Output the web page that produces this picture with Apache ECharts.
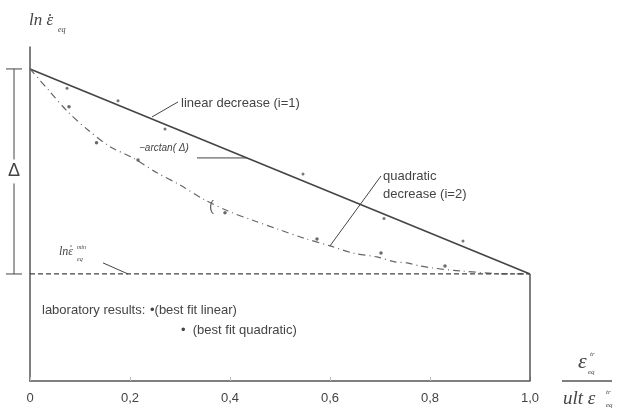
<!DOCTYPE html>
<html>
<head>
<meta charset="utf-8">
<script src="https://cdn.jsdelivr.net/npm/echarts@6/dist/echarts.min.js"></script>
<style>
  html, body { margin: 0; background: #fff; }
  #chart { width: 619px; height: 419px; }
</style>
</head>
<body>
<div id="chart"></div>
<script>
// y is normalised: 1 = ln(rate) at start, 0 = ln(rate min)
const xTicks = [0, 0.2, 0.4, 0.6, 0.8, 1.0];
const linearFit = [[0, 1], [1, 0]];
const quadraticFit = [
  [0, 1], [0.038, 0.894], [0.076, 0.79], [0.116, 0.702], [0.16, 0.621],
  [0.206, 0.566], [0.253, 0.495], [0.3, 0.434], [0.346, 0.366], [0.396, 0.307],
  [0.444, 0.263], [0.494, 0.22], [0.546, 0.176], [0.6, 0.137], [0.646, 0.102],
  [0.694, 0.083], [0.73, 0.059], [0.754, 0.054], [0.78, 0.039], [0.806, 0.029],
  [0.86, 0.015], [0.96, 0.0], [1.0, 0.0]
];
const labLinear = [[0.074, 0.906], [0.176, 0.845], [0.27, 0.707], [0.546, 0.488], [0.708, 0.271], [0.866, 0.161]];
const labQuadratic = [[0.078, 0.816], [0.133, 0.64], [0.216, 0.556], [0.39, 0.298], [0.574, 0.171], [0.702, 0.102], [0.83, 0.039]];
const minLevel = [[0, 0], [1, 0]];
const rightEdge = [[1, -0.522], [1, 0]];
const linearLeader = [[0.244, 0.766], [0.296, 0.839]];
const arctanLeader = [[0.334, 0.566], [0.434, 0.566]];
const minLeader = [[0.146, 0.054], [0.196, 0]];
const quadLeader = [[0.6, 0.137], [0.702, 0.478]];

const ink = '#444';

function lineSeries(data, style) {
  return {
    type: 'line',
    data: data,
    symbol: 'none',
    silent: true,
    lineStyle: Object.assign({ color: ink, width: 1 }, style)
  };
}

function txt(x, y, text, font, extra) {
  return {
    type: 'text',
    x: x,
    y: y,
    silent: true,
    style: Object.assign({ text: text, font: font, fill: ink, textVerticalAlign: 'middle' }, extra)
  };
}

const chart = echarts.init(document.getElementById('chart'));

let option = {
  animation: false,
  grid: { left: 30, right: 89, top: 47, bottom: 38 },
  xAxis: {
    type: 'value',
    min: 0,
    max: 1,
    interval: 0.2,
    axisLine: { onZero: false, lineStyle: { color: '#555', width: 1.5 } },
    axisTick: { show: true, inside: true, length: 4, lineStyle: { color: '#bbb' } },
    splitLine: { show: false },
    axisLabel: {
      margin: 11,
      color: '#444',
      fontFamily: 'Liberation Sans',
      fontSize: 13,
      formatter: (v) => (v === 0 ? '0' : v.toFixed(1).replace('.', ','))
    }
  },
  yAxis: {
    type: 'value',
    min: -0.522,
    max: 1.107,
    axisLine: { show: true, onZero: false, lineStyle: { color: '#555', width: 1.5 } },
    axisTick: { show: false },
    axisLabel: { show: false },
    splitLine: { show: false }
  },
  series: [
    lineSeries(linearFit, { width: 1.6 }),
    Object.assign(lineSeries(quadraticFit, { color: '#666', width: 1.2, type: [7, 4, 1, 4] }), { smooth: 0.3 }),
    lineSeries(minLevel, { type: [5, 3], width: 1.2 }),
    lineSeries(rightEdge, { width: 1.5, color: '#555' }),
    lineSeries(linearLeader, {}),
    lineSeries(arctanLeader, {}),
    lineSeries(minLeader, {}),
    lineSeries(quadLeader, {}),
    { type: 'scatter', data: labLinear, symbolSize: 3, itemStyle: { color: '#555' }, silent: true },
    { type: 'scatter', data: labQuadratic, symbolSize: 3.5, itemStyle: { color: '#444' }, silent: true }
  ]
};

chart.setOption(option);

// delta bracket on the left, placed from the axis scale
const yTop = chart.convertToPixel({ gridIndex: 0 }, [0, 1])[1];
const yMin = chart.convertToPixel({ gridIndex: 0 }, [0, 0])[1];
const yMid = (yTop + yMin) / 2;
const sans = '13px "Liberation Sans"';
const serifIt = 'italic 17px "Liberation Serif"';

chart.setOption({
  graphic: [
    { type: 'line', shape: { x1: 6, y1: yTop, x2: 22, y2: yTop }, style: { stroke: ink, lineWidth: 1 } },
    { type: 'line', shape: { x1: 6, y1: yMin, x2: 22, y2: yMin }, style: { stroke: ink, lineWidth: 1 } },
    { type: 'line', shape: { x1: 14, y1: yTop, x2: 14, y2: yMid - 12 }, style: { stroke: ink, lineWidth: 1 } },
    { type: 'line', shape: { x1: 14, y1: yMid + 12, x2: 14, y2: yMin }, style: { stroke: ink, lineWidth: 1 } },
    txt(14, yMid, 'Δ', '18px "Liberation Sans"', { textAlign: 'center' }),

    // y-axis title: ln, epsilon with dot, subscript eq
    txt(29, 21, 'ln ε', serifIt),
    { type: 'circle', shape: { cx: 50, cy: 15, r: 1 }, style: { fill: ink }, silent: true },
    txt(58, 30, 'eq', 'italic 8px "Liberation Serif"'),

    txt(181, 103, 'linear decrease (i=1)', sans),
    txt(139, 148, '−arctan( Δ)', 'italic 10px "Liberation Sans"'),
    txt(383, 176, 'quadratic', sans),
    txt(383, 194, 'decrease (i=2)', sans),
    // small bracket mark on the quadratic curve
    txt(209, 207, '(', '15px "Liberation Sans"', { fill: '#666' }),

    // ln eps min
    txt(59, 252, 'lnε', 'italic 12px "Liberation Serif"'),
    { type: 'circle', shape: { cx: 71, cy: 246, r: 0.7 }, style: { fill: ink }, silent: true },
    txt(77, 247, 'min', 'italic 6px "Liberation Serif"'),
    txt(77, 259, 'eq', 'italic 6px "Liberation Serif"'),

    txt(42, 310, 'laboratory results:', sans),
    txt(150, 310, '•(best fit linear)', sans),
    txt(181, 330, '•  (best fit quadratic)', sans),

    // x-axis title as fraction
    txt(578, 362, 'ε', 'italic 22px "Liberation Serif"'),
    txt(590, 354, 'tr', 'italic 7px "Liberation Serif"'),
    txt(588, 372, 'eq', 'italic 7px "Liberation Serif"'),
    { type: 'line', shape: { x1: 562, y1: 381, x2: 612, y2: 381 }, style: { stroke: '#555', lineWidth: 1.5 } },
    txt(563, 399, 'ult ε', 'italic 19px "Liberation Serif"'),
    txt(606, 392, 'tr', 'italic 7px "Liberation Serif"'),
    txt(606, 405, 'eq', 'italic 7px "Liberation Serif"')
  ]
});
</script>
</body>
</html>
